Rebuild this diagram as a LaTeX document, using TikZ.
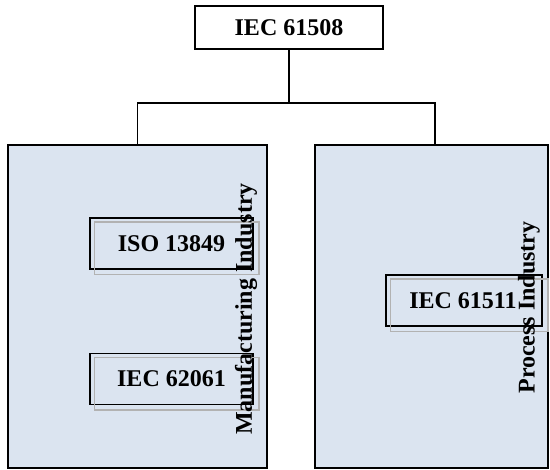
\documentclass[tikz,border=0pt]{standalone}
\usepackage{fontspec}
\setmainfont{Liberation Serif}
\definecolor{panelblue}{HTML}{DBE4F0}
\begin{document}
\begin{tikzpicture}[x=1pt,y=-1pt,
  every node/.style={font=\fontsize{24}{28}\selectfont\bfseries, inner sep=0pt},
  topbox/.style={draw=black, line width=1.5pt, fill=white, minimum width=188pt, minimum height=43pt},
  panel/.style={draw=black, line width=1.8pt, fill=panelblue, minimum height=323pt},
  stdbox/.style={draw=black, line width=1.5pt, minimum width=163pt, minimum height=51pt},
  shadowline/.style={draw=black!30, line width=1.5pt},
  conn/.style={draw=black, line width=1.3pt}]
\useasboundingbox (0,0) rectangle (550,470);
\node[topbox] (top) at (289,27.5) {IEC 61508};
\node[panel, minimum width=259pt] (left) at (137.5,306.5) {};
\node[panel, minimum width=233pt] (right) at (431.5,306.5) {};
\coordinate (rj) at (435,145);
\draw[conn] (top.south) -- (top.south |- 0,104);
\draw[conn] (left.north) -- ++(0,-41) -| (rj);
% standard boxes
\node[stdbox] (iso) at (171.5,243.5) {};
\node[stdbox] (iec2) at (171.5,379) {};
\node[stdbox, minimum width=156pt] (iec1) at (464,300.5) {};
\foreach \n in {iso,iec2,iec1}{
  \draw[shadowline] ([shift={(5,5)}]\n.south west) rectangle ([shift={(5,5)}]\n.north east);
}
\node at (iso.center) {ISO 13849};
\node at (iec2.center) {IEC 62061};
\node at ([xshift=-1pt]iec1.center) {IEC 61511};
\node[rotate=90] (mlab) at (246,309) {Manufacturing Industry};
\node[rotate=90] (plab) at (529,307.5) {Process Industry};
\end{tikzpicture}
\end{document}
